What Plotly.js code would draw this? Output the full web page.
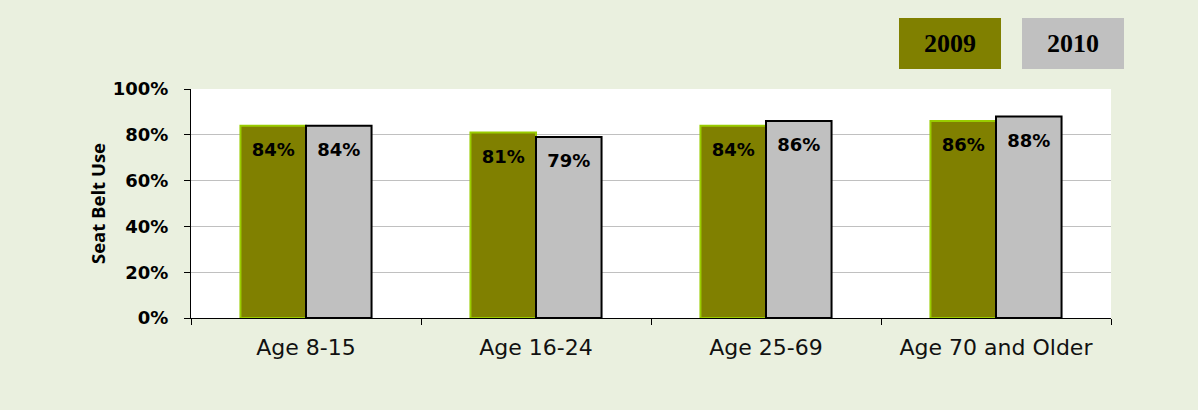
<!DOCTYPE html>
<html>
<head>
<meta charset="utf-8">
<script src="https://cdn.plot.ly/plotly-3.0.1.min.js"></script>
<style>html,body{margin:0;padding:0;background:#EAF0DF;}#chart{width:1198px;height:410px;}</style>
</head>
<body>
<div id="chart"></div>
<script>
const categories = ["Age 8-15", "Age 16-24", "Age 25-69", "Age 70 and Older"];
const series2009 = [84, 81, 84, 86];
const series2010 = [84, 79, 86, 88];
const seriesNames = ["2009", "2010"];
const yTicks = [0, 20, 40, 60, 80, 100];

const labelFont = {family: "DejaVu Sans, Verdana, sans-serif", size: 18, color: "#000000", weight: "bold"};

function barTrace(name, values, fill, lineColor, group) {
  return {
    type: "bar", name: name, x: categories, y: values, offsetgroup: group,
    marker: {color: fill, line: {color: lineColor, width: 2}},
    hoverinfo: "skip"
  };
}
function labelTrace(name, values, group) {
  return {
    type: "scatter", mode: "markers+text", name: name + " labels", x: categories, y: values,
    offsetgroup: group,
    marker: {size: 25, opacity: 0},
    text: values.map(v => "<b>" + v + "%</b>"),
    textposition: "bottom center", textfont: labelFont,
    cliponaxis: false, hoverinfo: "skip"
  };
}

const traces = [
  barTrace(seriesNames[0], series2009, "#808000", "#99CC00", "a"),
  barTrace(seriesNames[1], series2010, "#C0C0C0", "#000000", "b"),
  labelTrace(seriesNames[0], series2009, "a"),
  labelTrace(seriesNames[1], series2010, "b")
];

const layout = {
  width: 1198, height: 410,
  margin: {l: 191, r: 87, t: 89, b: 92, pad: 0},
  paper_bgcolor: "#EAF0DF",
  plot_bgcolor: "#FFFFFF",
  barmode: "group",
  scattermode: "group",
  bargap: 0.43,
  bargroupgap: 0,
  scattergap: 0.43,
  showlegend: false,
  font: {family: "DejaVu Sans, Verdana, sans-serif", color: "#000000"},
  xaxis: {
    type: "category",
    tickson: "boundaries",
    ticks: "outside", ticklen: 6, tickcolor: "#000000", tickwidth: 1,
    showline: true, linecolor: "#000000", linewidth: 1,
    showgrid: false,
    tickfont: {family: "DejaVu Sans, Verdana, sans-serif", size: 22, color: "#111111"},
    ticklabelstandoff: 10
  },
  yaxis: {
    range: [0, 100],
    tickvals: yTicks,
    ticktext: yTicks.map(v => "<b>" + v + "%</b>"),
    ticks: "outside", ticklen: 6, tickcolor: "#000000",
    showline: true, linecolor: "#000000", linewidth: 1,
    showgrid: true, gridcolor: "#C0C0C0", gridwidth: 1,
    zeroline: false,
    ticklabelstandoff: 12,
    tickfont: {family: "DejaVu Sans, Verdana, sans-serif", size: 18, color: "#000000"},
    title: {text: "<b>Seat Belt Use</b>", font: {family: "Open Sans, sans-serif", size: 18.5, color: "#000000"}, standoff: 2}
  },
  annotations: [
    {xref: "paper", yref: "paper", x: 0.825, y: 1.2, xanchor: "center", yanchor: "middle",
     text: "<b>" + seriesNames[0] + "</b>", showarrow: false, bgcolor: "#808000",
     width: 102, height: 51, borderpad: 0, borderwidth: 0,
     font: {family: "Liberation Serif, Times New Roman, serif", size: 26, color: "#000000"}},
    {xref: "paper", yref: "paper", x: 0.9587, y: 1.2, xanchor: "center", yanchor: "middle",
     text: "<b>" + seriesNames[1] + "</b>", showarrow: false, bgcolor: "#C0C0C0",
     width: 102, height: 51, borderpad: 0, borderwidth: 0,
     font: {family: "Liberation Serif, Times New Roman, serif", size: 26, color: "#000000"}}
  ]
};

Plotly.newPlot("chart", traces, layout, {staticPlot: true, displayModeBar: false});
</script>
</body>
</html>
